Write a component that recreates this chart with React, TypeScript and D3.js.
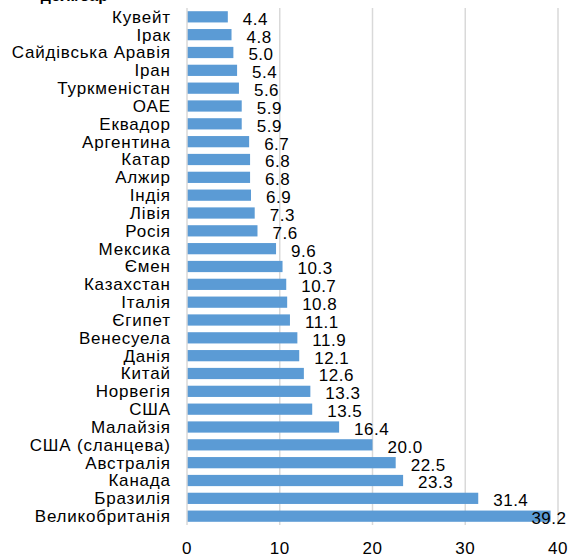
import React from "react";
import * as d3 from "d3";

const categories = ["Кувейт","Ірак","Сайдівська Аравія","Іран","Туркменістан","ОАЕ","Еквадор","Аргентина","Катар","Алжир","Індія","Лівія","Росія","Мексика","Ємен","Казахстан","Італія","Єгипет","Венесуела","Данія","Китай","Норвегія","США","Малайзія","США (сланцева)","Австралія","Канада","Бразилія","Великобританія"];
const values = [4.4,4.8,5.0,5.4,5.6,5.9,5.9,6.7,6.8,6.8,6.9,7.3,7.6,9.6,10.3,10.7,10.8,11.1,11.9,12.1,12.6,13.3,13.5,16.4,20.0,22.5,23.3,31.4,39.2];
const xTicks = [0,10,20,30,40];
const title = "дол./бар";

export default function App() {
  const W = 575, H = 558;
  const x = d3.scaleLinear().domain([0, 40]).range([187, 558]);
  const y = d3.scaleBand<string>().domain(categories).range([8, 525]).paddingInner(0.37).paddingOuter(0.18);
  const font = "'Liberation Sans', Arial, sans-serif";
  const fs = 17;
  const ls = 0.8;
  const labelRight = 567;
  return (
    <svg width={W} height={H} style={{ position: "absolute", left: 0, top: 0, background: "#fff" }} fontFamily={font}>
      <text x={108} y={1} textAnchor="end" fontWeight="bold" fontSize={16} fill="#000">{title}</text>
      {xTicks.slice(1).map(t => (
        <line key={t} x1={x(t)} x2={x(t)} y1={8} y2={525} stroke="#d9d9d9" strokeWidth={1.5} />
      ))}
      {categories.map((c, i) => {
        const v = values[i];
        const yy = y(c)!;
        const bw = y.bandwidth();
        const end = x(v);
        const label = v.toFixed(1);
        const approxW = label.length * 8.9;
        let lx = end + 15;
        if (lx + approxW > labelRight) lx = labelRight - approxW;
        return (
          <g key={c}>
            <rect x={x(0)} y={yy} width={end - x(0)} height={bw} fill="#5b9bd5" />
            <text x={170.8} y={yy + bw / 2} dy="0.35em" textAnchor="end" fontSize={fs} letterSpacing={ls} fill="#000">{c}</text>
            <text x={lx} y={yy + bw / 2 + 2} dy="0.35em" fontSize={fs} letterSpacing={0.5} fill="#000">{label}</text>
          </g>
        );
      })}
      <line x1={x(0)} x2={x(0)} y1={8} y2={525} stroke="#d9d9d9" strokeWidth={1.5} />
      {xTicks.map(t => (
        <text key={t} x={x(t)} y={548} dy="0.35em" textAnchor="middle" fontSize={fs} letterSpacing={0.5} fill="#000">{t}</text>
      ))}
    </svg>
  );
}
